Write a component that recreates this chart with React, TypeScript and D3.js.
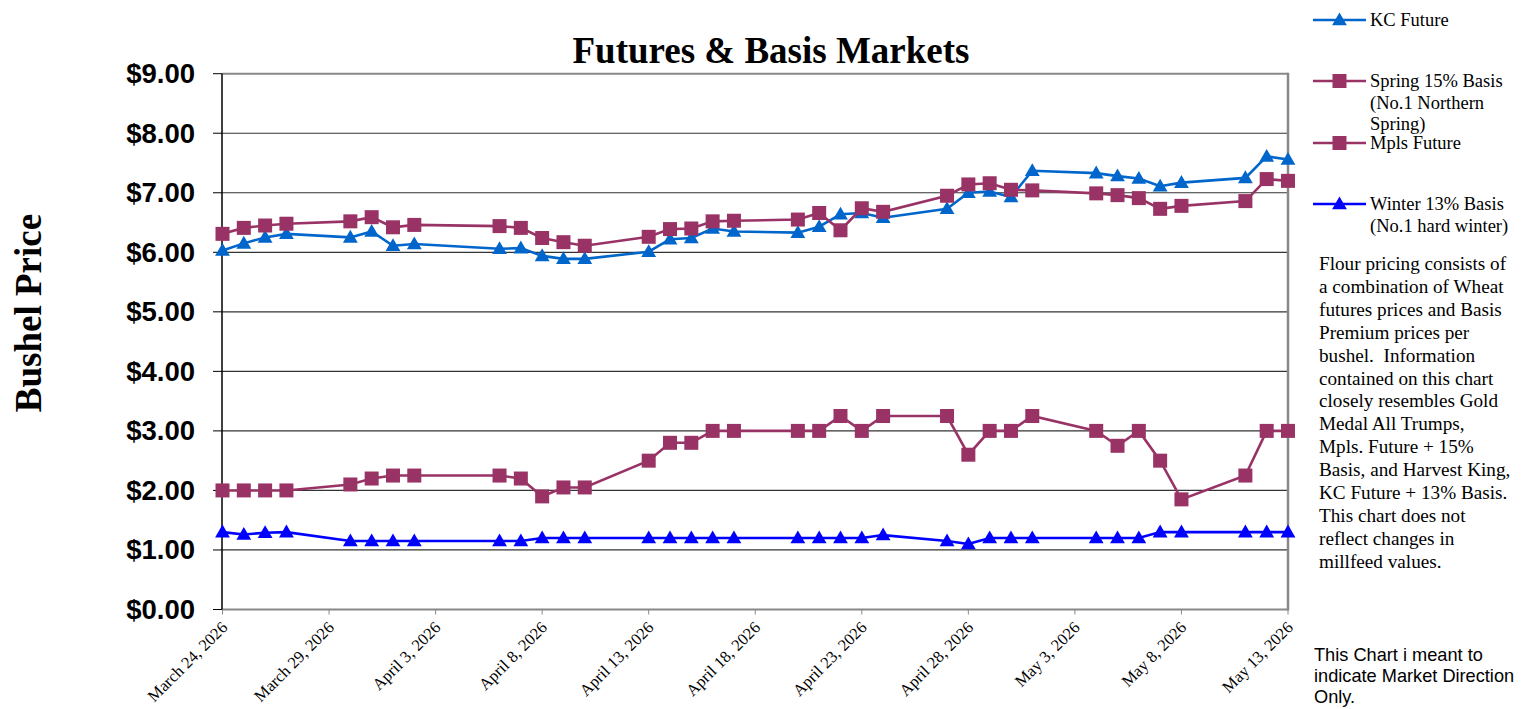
import React from "react";
import * as d3 from "d3";

const dates: string[] = [
  "2026-03-24","2026-03-25","2026-03-26","2026-03-27","2026-03-30","2026-03-31","2026-04-01","2026-04-02",
  "2026-04-06","2026-04-07","2026-04-08","2026-04-09","2026-04-10","2026-04-13","2026-04-14","2026-04-15",
  "2026-04-16","2026-04-17","2026-04-20","2026-04-21","2026-04-22","2026-04-23","2026-04-24","2026-04-27",
  "2026-04-28","2026-04-29","2026-04-30","2026-05-01","2026-05-04","2026-05-05","2026-05-06","2026-05-07",
  "2026-05-08","2026-05-11","2026-05-12","2026-05-13"
];

const kcFuture: number[] = [
  6.03,6.15,6.25,6.31,6.25,6.35,6.11,6.14,6.06,6.07,5.94,5.89,5.89,
  6.01,6.22,6.24,6.40,6.35,6.33,6.43,6.64,6.66,6.58,6.73,7.00,7.02,
  6.93,7.37,7.33,7.28,7.24,7.11,7.17,7.25,7.61,7.56
];

const mplsFuture: number[] = [
  6.31,6.41,6.45,6.48,6.52,6.59,6.42,6.46,6.44,6.41,6.24,6.17,6.11,
  6.26,6.39,6.40,6.52,6.53,6.55,6.66,6.37,6.74,6.68,6.95,7.14,7.16,
  7.05,7.04,6.99,6.96,6.91,6.73,6.78,6.86,7.23,7.20
];

const springBasis: number[] = [
  2.00,2.00,2.00,2.00,2.10,2.20,2.25,2.25,2.25,2.20,1.90,2.05,2.05,
  2.50,2.80,2.80,3.00,3.00,3.00,3.00,3.25,3.00,3.25,3.25,2.60,3.00,
  3.00,3.25,3.00,2.75,3.00,2.50,1.85,2.25,3.00,3.00
];

const winterBasis: number[] = [
  1.30,1.26,1.29,1.30,1.15,1.15,1.15,1.15,1.15,1.15,1.20,1.20,1.20,
  1.20,1.20,1.20,1.20,1.20,1.20,1.20,1.20,1.20,1.25,1.15,1.10,1.20,
  1.20,1.20,1.20,1.20,1.20,1.30,1.30,1.30,1.30,1.30
];

const yTicks: number[] = [0, 1, 2, 3, 4, 5, 6, 7, 8, 9];
const xTickDates: string[] = [
  "2026-03-24","2026-03-29","2026-04-03","2026-04-08","2026-04-13","2026-04-18",
  "2026-04-23","2026-04-28","2026-05-03","2026-05-08","2026-05-13"
];

const titleText = "Futures & Basis Markets";
const yLabel = "Bushel Price";
const noteLines: string[] = [
  "Flour pricing consists of",
  "a combination of Wheat",
  "futures prices and Basis",
  "Premium prices per",
  "bushel.  Information",
  "contained on this chart",
  "closely resembles Gold",
  "Medal All Trumps,",
  "Mpls. Future + 15%",
  "Basis, and Harvest King,",
  "KC Future + 13% Basis.",
  "This chart does not",
  "reflect changes in",
  "millfeed values."
];
const footLines: string[] = ["This Chart i meant to", "indicate Market Direction", "Only."];

const parse = d3.utcParse("%Y-%m-%d");
const fmtTick = d3.utcFormat("%B %-d, %Y");

type Series = { name: string[]; values: number[]; color: string; marker: "tri" | "sq"; legendY: number };

export default function App() {
  const x = d3
    .scaleUtc()
    .domain([parse("2026-03-24")!, parse("2026-05-13")!])
    .range([222.5, 1288]);
  const y = d3.scaleLinear().domain([0, 9]).range([609.5, 73.7]);

  const series: Series[] = [
    { name: ["KC Future"], values: kcFuture, color: "#0066CC", marker: "tri", legendY: 20 },
    { name: ["Spring 15% Basis", "(No.1 Northern", "Spring)"], values: springBasis, color: "#993366", marker: "sq", legendY: 81 },
    { name: ["Mpls Future"], values: mplsFuture, color: "#993366", marker: "sq", legendY: 143 },
    { name: ["Winter 13% Basis", "(No.1 hard winter)"], values: winterBasis, color: "#0000FF", marker: "tri", legendY: 204 },
  ];
  const drawOrder = [series[3], series[1], series[0], series[2]];

  const line = (vals: number[]) =>
    d3
      .line<number>()
      .x((_, i) => x(parse(dates[i])!))
      .y((v) => y(v))(vals) || "";

  const marker = (m: "tri" | "sq", cx: number, cy: number, color: string, key: any) => {
    if (m === "sq") {
      return <rect key={key} x={cx - 7} y={cy - 7} width={14} height={14} fill={color} />;
    }
    const sym = d3.symbol().type(d3.symbolTriangle).size(95)();
    return <path key={key} d={sym || ""} transform={`translate(${cx},${cy + 1})`} fill={color} />;
  };

  const serif = "'Liberation Serif', 'Times New Roman', serif";
  const sans = "'Liberation Sans', Arial, sans-serif";

  return (
    <svg width={1534} height={709} style={{ position: "absolute", left: 0, top: 0, background: "#fff" }}>
      <rect x={0} y={0} width={1534} height={709} fill="#fff" />
      {yTicks.map((t) => (
        <line key={"g" + t} x1={222} x2={1288} y1={y(t)} y2={y(t)} stroke={t === 9 || t === 0 ? "#888" : "#333"} strokeWidth={t === 9 || t === 0 ? 2 : 1.2} />
      ))}
      <line x1={1288} x2={1288} y1={y(9) - 1} y2={y(0) + 1} stroke="#888" strokeWidth={2.5} />
      <line x1={222} x2={222} y1={y(9)} y2={y(0)} stroke="#000" strokeWidth={1.5} />
      {yTicks.map((t) => (
        <line key={"yt" + t} x1={213} x2={222} y1={y(t)} y2={y(t)} stroke="#000" strokeWidth={1} />
      ))}
      {yTicks.map((t) => (
        <text key={"yl" + t} x={195} y={y(t) + 9.5} textAnchor="end" fontFamily={sans} fontWeight="bold" fontSize={27.5}>
          {"$" + t.toFixed(2)}
        </text>
      ))}
      {xTickDates.map((d) => {
        const xx = x(parse(d)!);
        return (
          <g key={"xt" + d}>
            <line x1={xx} x2={xx} y1={y(0)} y2={y(0) + 5} stroke="#888" strokeWidth={1} />
            <text transform={`translate(${xx + 6},${y(0) + 19}) rotate(-45)`} textAnchor="end" fontFamily={serif} fontSize={16.5}>
              {fmtTick(parse(d)!)}
            </text>
          </g>
        );
      })}
      {drawOrder.map((s, si) => (
        <g key={"s" + si}>
          <path d={line(s.values)} fill="none" stroke={s.color} strokeWidth={2.6} />
          {s.values.map((v, i) => marker(s.marker, x(parse(dates[i])!), y(v), s.color, i))}
        </g>
      ))}
      <text x={771} y={63} textAnchor="middle" fontFamily={serif} fontWeight="bold" fontSize={37}>
        {titleText}
      </text>
      <text transform="translate(41,313) rotate(-90)" textAnchor="middle" fontFamily={serif} fontWeight="bold" fontSize={37}>
        {yLabel}
      </text>
      {series.map((s, si) => (
        <g key={"lg" + si}>
          <line x1={1313} x2={1366} y1={s.legendY} y2={s.legendY} stroke={s.color} strokeWidth={2.6} />
          {marker(s.marker, 1339.5, s.legendY, s.color, "m")}
          {s.name.map((n, j) => (
            <text key={j} x={1370} y={s.legendY + 6 + j * 21.5} fontFamily={serif} fontSize={18.5}>
              {n}
            </text>
          ))}
        </g>
      ))}
      {noteLines.map((l, i) => (
        <text key={"n" + i} x={1319} y={270 + i * 22.9} fontFamily={serif} fontSize={19.2} style={{ whiteSpace: "pre" }}>
          {l}
        </text>
      ))}
      {footLines.map((l, i) => (
        <text key={"f" + i} x={1314} y={661 + i * 20.8} fontFamily={sans} fontSize={18.2}>
          {l}
        </text>
      ))}
    </svg>
  );
}
